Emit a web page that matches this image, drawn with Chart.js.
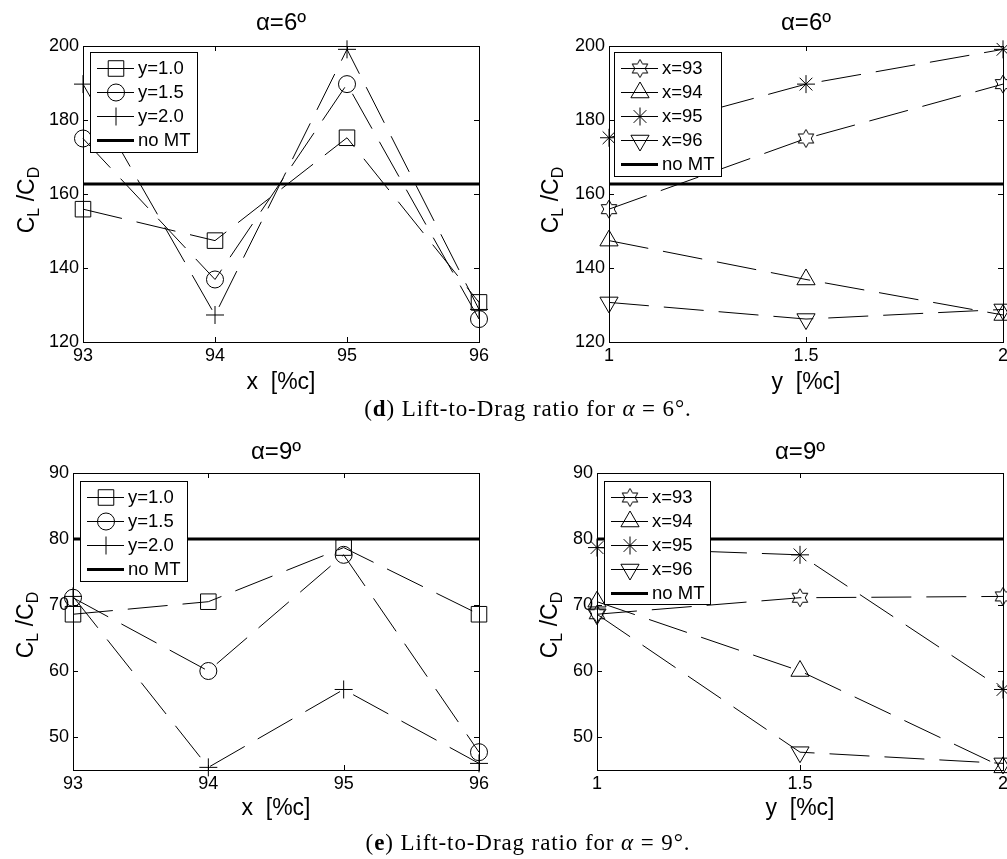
<!DOCTYPE html>
<html>
<head>
<meta charset="utf-8">
<script src="https://cdn.jsdelivr.net/npm/chart.js@4.4.1/dist/chart.umd.min.js"></script>
<style>
  html, body { margin: 0; padding: 0; background: #fff; }
  #page { position: relative; width: 1007px; height: 859px; overflow: hidden;
          font-family: "Liberation Sans", Arial, Helvetica, sans-serif; color: #000; }
  canvas { position: absolute; }
  .t { position: absolute; width: 240px; text-align: center; white-space: pre; line-height: 1; }
  .title { font-size: 24px; }
  .xl { font-size: 23px; }
  .yl { width: 100px; height: 26px; line-height: 26px; font-size: 23px; transform: rotate(-90deg); }
  .yl sub { font-size: 16px; vertical-align: -5px; line-height: 0; }
  .cap { width: 500px; font-size: 23px; letter-spacing: 0.9px; font-family: "Palatino Linotype", "Book Antiqua", Palatino, "Liberation Serif", "DejaVu Serif", serif; }
</style>
</head>
<body>
<div id="page">
  <canvas id="c6x" width="500" height="420" style="left:0;top:0"></canvas>
  <canvas id="c6y" width="540" height="420" style="left:500px;top:0"></canvas>
  <canvas id="c9x" width="500" height="439" style="left:0;top:420px"></canvas>
  <canvas id="c9y" width="540" height="439" style="left:500px;top:420px"></canvas>

  <div class="t title" style="left:161px;top:10px">α=6º</div>
  <div class="t title" style="left:686px;top:10px">α=6º</div>
  <div class="t title" style="left:156px;top:439px">α=9º</div>
  <div class="t title" style="left:680px;top:439px">α=9º</div>

  <div class="t xl" style="left:161px;top:370px">x  [%c]</div>
  <div class="t xl" style="left:686px;top:370px">y  [%c]</div>
  <div class="t xl" style="left:156px;top:796px">x  [%c]</div>
  <div class="t xl" style="left:680px;top:796px">y  [%c]</div>

  <div class="t yl" style="left:-24px;top:187px">C<sub>L</sub> /C<sub>D</sub></div>
  <div class="t yl" style="left:500px;top:187px">C<sub>L</sub> /C<sub>D</sub></div>
  <div class="t yl" style="left:-25px;top:612px">C<sub>L</sub> /C<sub>D</sub></div>
  <div class="t yl" style="left:499px;top:612px">C<sub>L</sub> /C<sub>D</sub></div>

  <div class="t cap" style="left:278px;top:397px">(<b>d</b>) Lift-to-Drag ratio for <i>α</i> = 6°.</div>
  <div class="t cap" style="left:278px;top:831px">(<b>e</b>) Lift-to-Drag ratio for <i>α</i> = 9°.</div>
</div>

<script>
// microtab chordwise (x) and vertical (y) positions, % chord
const xPos = [93, 94, 95, 96];
const yPos = [1, 1.5, 2];

// CL/CD at alpha = 6 deg, one array per y position, ordered as xPos
const a6_y10 = [155.9, 147.4, 175.2, 130.7];
const a6_y15 = [175.0, 136.9, 189.7, 126.2];
const a6_y20 = [189.7, 127.3, 199.1, 128.8];
const a6_noMT = 162.7;

// CL/CD at alpha = 9 deg
const a9_y10 = [68.6, 70.5, 78.7, 68.6];
const a9_y15 = [71.1, 60.0, 77.6, 47.7];
const a9_y20 = [71.3, 45.4, 57.2, 46.0];
const a9_noMT = 80;

const yNames = ['y=1.0', 'y=1.5', 'y=2.0'];
const xNames = ['x=93', 'x=94', 'x=95', 'x=96'];

const xTicks = [93, 94, 95, 96];
const yPosTicks = [1, 1.5, 2];
const ticks6 = [120, 140, 160, 180, 200];
const ticks9 = [50, 60, 70, 80, 90];

Chart.defaults.font.family = '"Liberation Sans", Arial, Helvetica, sans-serif';
Chart.defaults.color = '#000';

// six-pointed star outline, used as a point style
function hexagram(r) {
  const size = Math.ceil(2 * r + 4);
  const c = document.createElement('canvas');
  c.width = c.height = size;
  const g = c.getContext('2d');
  const cx = size / 2, cy = size / 2;
  g.strokeStyle = '#000';
  g.lineWidth = 1;
  g.beginPath();
  for (let k = 0; k < 12; k++) {
    const a = -Math.PI / 2 + k * Math.PI / 6;
    const rr = k % 2 ? r / Math.sqrt(3) : r;
    const px = cx + rr * Math.cos(a), py = cy + rr * Math.sin(a);
    if (k === 0) g.moveTo(px, py); else g.lineTo(px, py);
  }
  g.closePath();
  g.stroke();
  return c;
}

const yMarkers = [
  { pointStyle: 'rect', pointRadius: 11 },
  { pointStyle: 'circle', pointRadius: 8.5 },
  { pointStyle: 'cross', pointRadius: 9 }
];
const xMarkers = [
  { pointStyle: hexagram(9), pointRadius: 9 },
  { pointStyle: 'triangle', pointRadius: 10.5 },
  { pointStyle: 'star', pointRadius: 9 },
  { pointStyle: 'triangle', pointRadius: 10.5, pointRotation: 180 }
];

function series(label, xs, ys, marker) {
  return Object.assign({
    label: label,
    data: xs.map((x, i) => ({ x: x, y: ys[i] })),
    borderColor: '#000',
    borderWidth: 1,
    borderDash: [40, 15],
    pointBorderColor: '#000',
    pointBackgroundColor: 'rgba(0,0,0,0)',
    pointBorderWidth: 1,
    clip: false
  }, marker);
}

function noMT(xs, v) {
  return {
    label: 'no MT',
    data: [{ x: xs[0], y: v }, { x: xs[xs.length - 1], y: v }],
    borderColor: '#000',
    borderWidth: 3,
    pointRadius: 0,
    clip: false
  };
}

// frame with inward tick marks on all four sides
const axesBox = {
  id: 'axesBox',
  afterDatasetsDraw(chart) {
    const { ctx, chartArea: a } = chart;
    const sx = chart.scales.x, sy = chart.scales.y;
    ctx.save();
    ctx.setLineDash([]);
    ctx.strokeStyle = '#000';
    ctx.lineWidth = 1;
    ctx.strokeRect(a.left + 0.5, a.top + 0.5, a.right - a.left, a.bottom - a.top);
    ctx.beginPath();
    sx.ticks.forEach(t => {
      const p = Math.round(sx.getPixelForValue(t.value)) + 0.5;
      ctx.moveTo(p, a.top); ctx.lineTo(p, a.top + 5);
      ctx.moveTo(p, a.bottom); ctx.lineTo(p, a.bottom - 5);
    });
    sy.ticks.forEach(t => {
      const p = Math.round(sy.getPixelForValue(t.value)) + 0.5;
      ctx.moveTo(a.left, p); ctx.lineTo(a.left + 5, p);
      ctx.moveTo(a.right, p); ctx.lineTo(a.right - 5, p);
    });
    ctx.stroke();
    ctx.restore();
  }
};

// opaque legend box inside the plot, line sample with marker
function boxLegend(box) {
  return {
    id: 'boxLegend',
    afterDraw(chart) {
      const { ctx, chartArea: a } = chart;
      const x0 = a.left + box.dx, y0 = a.top + box.dy;
      ctx.save();
      ctx.setLineDash([]);
      ctx.fillStyle = '#fff';
      ctx.fillRect(x0, y0, box.w, box.h);
      ctx.strokeStyle = '#000';
      ctx.lineWidth = 1;
      ctx.strokeRect(x0 + 0.5, y0 + 0.5, box.w, box.h);
      ctx.font = '18.5px "Liberation Sans", Arial, sans-serif';
      ctx.textBaseline = 'middle';
      chart.data.datasets.forEach((ds, i) => {
        const cy = Math.round(y0 + 16 + i * 24) + 0.5;
        ctx.strokeStyle = '#000';
        ctx.lineWidth = ds.borderWidth;
        ctx.beginPath();
        ctx.moveTo(x0 + 7, cy);
        ctx.lineTo(x0 + 44, cy);
        ctx.stroke();
        if (ds.pointRadius) {
          ctx.lineWidth = 1;
          ctx.fillStyle = 'rgba(0,0,0,0)';
          Chart.helpers.drawPoint(ctx, {
            pointStyle: ds.pointStyle, rotation: ds.pointRotation || 0,
            radius: ds.pointRadius, borderWidth: 1
          }, x0 + 26, cy);
        }
        ctx.fillStyle = '#000';
        ctx.fillText(ds.label, x0 + 48, cy);
      });
      ctx.restore();
    }
  };
}

function makeChart(id, geo, datasets, xr, yr, box) {
  return new Chart(document.getElementById(id), {
    type: 'line',
    data: { datasets: datasets },
    options: {
      responsive: false,
      animation: false,
      events: [],
      layout: { padding: { top: geo.top, right: geo.right, left: 0, bottom: 0 } },
      scales: {
        x: {
          type: 'linear', min: xr.min, max: xr.max,
          grid: { display: false, drawTicks: false }, border: { display: false },
          afterFit: s => { s.height = geo.xh; },
          afterBuildTicks: s => { s.ticks = xr.ticks.map(v => ({ value: v })); },
          ticks: { padding: 3, maxRotation: 0, autoSkip: false, font: { size: 18 }, callback: v => String(v) }
        },
        y: {
          type: 'linear', min: yr.min, max: yr.max,
          grid: { display: false, drawTicks: false }, border: { display: false },
          afterFit: s => { s.width = geo.yw; },
          afterBuildTicks: s => { s.ticks = yr.ticks.map(v => ({ value: v })); },
          ticks: { padding: 4, autoSkip: false, font: { size: 18 }, callback: v => String(v) }
        }
      },
      plugins: { legend: { display: false }, tooltip: { enabled: false } }
    },
    plugins: [axesBox, boxLegend(box)]
  });
}

const a6 = [a6_y10, a6_y15, a6_y20];
const a9 = [a9_y10, a9_y15, a9_y20];

// CL/CD against x, one line per y position
function byX(table, ref) {
  return table.map((vals, k) => series(yNames[k], xPos, vals, yMarkers[k])).concat([noMT(xPos, ref)]);
}
// CL/CD against y, one line per x position
function byY(table, ref) {
  return xPos.map((x, j) => series(xNames[j], yPos, table.map(vals => vals[j]), xMarkers[j])).concat([noMT(yPos, ref)]);
}

const xRange = { min: 93, max: 96, ticks: xTicks };
const yRange = { min: 1, max: 2, ticks: yPosTicks };

makeChart('c6x', { top: 46, right: 21, yw: 83, xh: 78 }, byX(a6, a6_noMT),
  xRange, { min: 120, max: 200, ticks: ticks6 }, { dx: 7, dy: 6, w: 107, h: 100 });
makeChart('c6y', { top: 46, right: 37, yw: 109, xh: 78 }, byY(a6, a6_noMT),
  yRange, { min: 120, max: 200, ticks: ticks6 }, { dx: 5, dy: 6, w: 107, h: 124 });
makeChart('c9x', { top: 53, right: 21, yw: 73, xh: 89 }, byX(a9, a9_noMT),
  xRange, { min: 45, max: 90, ticks: ticks9 }, { dx: 7, dy: 8, w: 107, h: 100 });
makeChart('c9y', { top: 53, right: 37, yw: 97, xh: 89 }, byY(a9, a9_noMT),
  yRange, { min: 45, max: 90, ticks: ticks9 }, { dx: 7, dy: 8, w: 106, h: 123 });
</script>
</body>
</html>
